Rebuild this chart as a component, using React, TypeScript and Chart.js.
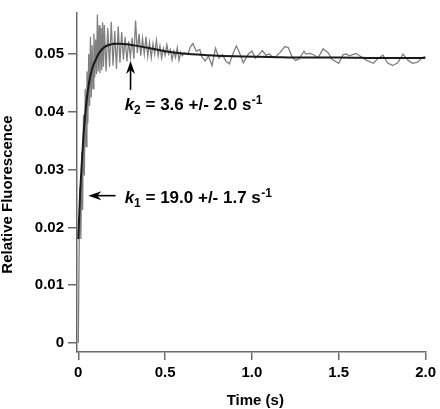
import React, { useEffect, useRef } from "react";
import { Chart, registerables } from "chart.js";

Chart.register(...registerables);

// Noisy fluorescence trace: [time (s), relative fluorescence]
const tracePoints: [number, number][] = [
  [0.000, 0.0000], [0.005, 0.0165], [0.010, 0.0270], [0.015, 0.0180], [0.020, 0.0330],
  [0.025, 0.0230], [0.030, 0.0395], [0.035, 0.0290], [0.040, 0.0440], [0.045, 0.0340],
  [0.050, 0.0470], [0.055, 0.0380], [0.060, 0.0500], [0.065, 0.0410], [0.070, 0.0530],
  [0.075, 0.0425], [0.080, 0.0515], [0.085, 0.0440], [0.090, 0.0535], [0.095, 0.0460],
  [0.100, 0.0525], [0.105, 0.0465], [0.110, 0.0568], [0.115, 0.0470], [0.120, 0.0550],
  [0.125, 0.0467], [0.130, 0.0545], [0.135, 0.0472], [0.140, 0.0555], [0.145, 0.0478],
  [0.15, 0.0550], [0.16, 0.0470], [0.17, 0.0545], [0.18, 0.0478], [0.19, 0.0556],
  [0.20, 0.0480], [0.21, 0.0540], [0.22, 0.0474], [0.23, 0.0548], [0.24, 0.0485],
  [0.25, 0.0538], [0.26, 0.0490], [0.27, 0.0530], [0.28, 0.0487], [0.29, 0.0522],
  [0.30, 0.0495], [0.31, 0.0528], [0.32, 0.0492], [0.33, 0.0558], [0.34, 0.0502],
  [0.35, 0.0535], [0.36, 0.0497], [0.37, 0.0527], [0.38, 0.0500], [0.39, 0.0530],
  [0.40, 0.0496], [0.41, 0.0520], [0.42, 0.0494], [0.43, 0.0518], [0.44, 0.0500],
  [0.45, 0.0524], [0.46, 0.0497], [0.47, 0.0514], [0.48, 0.0493], [0.49, 0.0510],
  [0.50, 0.0498], [0.51, 0.0516], [0.52, 0.0500], [0.53, 0.0508], [0.54, 0.0490],
  [0.55, 0.0505], [0.56, 0.0494], [0.57, 0.0511], [0.58, 0.0489], [0.59, 0.0503],
  [0.60, 0.0497], [0.61, 0.0502], [0.63, 0.0499], [0.645, 0.0512], [0.66, 0.0518],
  [0.68, 0.0505], [0.70, 0.0508], [0.71, 0.0496], [0.73, 0.0488], [0.75, 0.0496],
  [0.77, 0.0480], [0.79, 0.0510], [0.81, 0.0493], [0.83, 0.0499], [0.85, 0.0488],
  [0.87, 0.0483], [0.89, 0.0500], [0.91, 0.0514], [0.925, 0.0505], [0.95, 0.0485],
  [0.98, 0.0500], [1.00, 0.0505], [1.02, 0.0493], [1.04, 0.0499], [1.06, 0.0506],
  [1.08, 0.0498], [1.10, 0.0500], [1.115, 0.0496], [1.135, 0.0495], [1.16, 0.0502],
  [1.19, 0.0513], [1.21, 0.0511], [1.23, 0.0496], [1.25, 0.0489], [1.27, 0.0491],
  [1.30, 0.0505], [1.31, 0.0500], [1.335, 0.0501], [1.36, 0.0498], [1.38, 0.0493],
  [1.41, 0.0509], [1.44, 0.0502], [1.46, 0.0491], [1.50, 0.0484], [1.525, 0.0499],
  [1.545, 0.0500], [1.56, 0.0497], [1.58, 0.0499], [1.60, 0.0501], [1.62, 0.0497],
  [1.66, 0.0489], [1.70, 0.0484], [1.725, 0.0492], [1.755, 0.0498], [1.78, 0.0485],
  [1.81, 0.0480], [1.84, 0.0485], [1.87, 0.0500], [1.90, 0.0489], [1.925, 0.0484],
  [1.955, 0.0486], [1.98, 0.0494], [2.00, 0.0496],
];

// Fitted double-exponential curve
const fitTime = [0, 0.01, 0.02, 0.03, 0.04, 0.05, 0.06, 0.08, 0.10, 0.12, 0.15, 0.18, 0.21, 0.24, 0.28, 0.32, 0.40, 0.50, 0.60, 0.75, 0.90, 1.10, 1.30, 1.50, 1.75, 2.00];
const fitValue = [0.0180, 0.0255, 0.0310, 0.0360, 0.0395, 0.0425, 0.0447, 0.0475, 0.0490, 0.0502, 0.0512, 0.0516, 0.0518, 0.0518, 0.0517, 0.0515, 0.0511, 0.0505, 0.0501, 0.0498, 0.0496, 0.0495, 0.0494, 0.0494, 0.0493, 0.0493];

const yTickValues = [0, 0.01, 0.02, 0.03, 0.04, 0.05];
const xTickValues = [0, 0.5, 1.0, 1.5, 2.0];

const xTitle = "Time (s)";
const yTitle = "Relative Fluorescence";

// Annotations (anchored in data coordinates)
const k2Label = { parts: ["k", "2", " = 3.6 +/- 2.0 s", "-1"], x: 0.267, y: 0.0403 };
const k2Arrow = { fromX: 0.301, fromY: 0.0438, toX: 0.301, toY: 0.0488 };
const k1Label = { parts: ["k", "1", " = 19.0 +/- 1.7 s", "-1"], x: 0.267, y: 0.0243 };
const k1Arrow = { fromX: 0.215, fromY: 0.0255, toX: 0.058, toY: 0.0255 };

const FONT = "'Liberation Sans', Arial, Helvetica, sans-serif";

function drawRich(ctx: CanvasRenderingContext2D, parts: string[], x: number, y: number) {
  const big = 17;
  const small = 12;
  let cx = x;
  ctx.textBaseline = "alphabetic";
  ctx.textAlign = "left";
  ctx.fillStyle = "#000";
  ctx.font = `italic bold ${big}px ${FONT}`;
  ctx.fillText(parts[0], cx, y);
  cx += ctx.measureText(parts[0]).width;
  ctx.font = `bold ${small}px ${FONT}`;
  ctx.fillText(parts[1], cx, y + 4);
  cx += ctx.measureText(parts[1]).width;
  ctx.font = `bold ${big}px ${FONT}`;
  ctx.fillText(parts[2], cx, y);
  cx += ctx.measureText(parts[2]).width;
  ctx.font = `bold ${small}px ${FONT}`;
  ctx.fillText(parts[3], cx + 0.5, y - 6);
}

function drawArrow(ctx: CanvasRenderingContext2D, x1: number, y1: number, x2: number, y2: number) {
  const ang = Math.atan2(y2 - y1, x2 - x1);
  const headLen = 13;
  const halfW = 4.5;
  const notch = 4;
  const cos = Math.cos(ang);
  const sin = Math.sin(ang);
  ctx.save();
  ctx.strokeStyle = "#000";
  ctx.fillStyle = "#000";
  ctx.lineWidth = 1.6;
  ctx.beginPath();
  ctx.moveTo(x1, y1);
  ctx.lineTo(x2 - cos * (headLen - notch), y2 - sin * (headLen - notch));
  ctx.stroke();
  const bx = x2 - cos * headLen;
  const by = y2 - sin * headLen;
  const nx = x2 - cos * (headLen - notch);
  const ny = y2 - sin * (headLen - notch);
  ctx.beginPath();
  ctx.moveTo(x2, y2);
  ctx.lineTo(bx - sin * halfW, by + cos * halfW);
  ctx.lineTo(nx, ny);
  ctx.lineTo(bx + sin * halfW, by - cos * halfW);
  ctx.closePath();
  ctx.fill();
  ctx.restore();
}

const overlayPlugin = {
  id: "overlay",
  afterDraw(chart: any) {
    const ctx: CanvasRenderingContext2D = chart.ctx;
    const xs = chart.scales.x;
    const ys = chart.scales.y;
    ctx.save();
    ctx.fillStyle = "#000";
    ctx.font = `bold 15px ${FONT}`;
    ctx.textAlign = "center";
    ctx.textBaseline = "middle";
    ctx.fillText(xTitle, (chart.chartArea.left + chart.chartArea.right) / 2 + 4, chart.chartArea.bottom + 49);
    ctx.save();
    ctx.translate(8, (chart.chartArea.top + chart.chartArea.bottom) / 2 + 12);
    ctx.rotate(-Math.PI / 2);
    ctx.fillText(yTitle, 0, 0);
    ctx.restore();
    drawArrow(ctx, xs.getPixelForValue(k2Arrow.fromX), ys.getPixelForValue(k2Arrow.fromY), xs.getPixelForValue(k2Arrow.toX), ys.getPixelForValue(k2Arrow.toY));
    drawArrow(ctx, xs.getPixelForValue(k1Arrow.fromX), ys.getPixelForValue(k1Arrow.fromY), xs.getPixelForValue(k1Arrow.toX), ys.getPixelForValue(k1Arrow.toY));
    drawRich(ctx, k2Label.parts, xs.getPixelForValue(k2Label.x), ys.getPixelForValue(k2Label.y));
    drawRich(ctx, k1Label.parts, xs.getPixelForValue(k1Label.x), ys.getPixelForValue(k1Label.y));
    ctx.restore();
  },
};

export default function App() {
  const ref = useRef<HTMLCanvasElement | null>(null);
  useEffect(() => {
    if (!ref.current) return;
    const axisColor = "#6a6a6a";
    const chart = new Chart(ref.current, {
      type: "line",
      data: {
        datasets: [
          {
            label: "fit",
            data: fitTime.map((t, i) => ({ x: t, y: fitValue[i] })),
            borderColor: "#1a1a1a",
            borderWidth: 2,
            pointRadius: 0,
            cubicInterpolationMode: "monotone",
            fill: false,
            order: 0,
          },
          {
            label: "trace",
            data: tracePoints.map(([t, v]) => ({ x: t, y: v })),
            borderColor: "#7f7f7f",
            borderWidth: 1.3,
            pointRadius: 0,
            tension: 0,
            fill: false,
            order: 1,
          },
        ],
      },
      options: {
        animation: false,
        responsive: false,
        devicePixelRatio: 1,
        layout: { padding: { left: 0, right: 13, top: 0, bottom: 0 } },
        plugins: { legend: { display: false }, tooltip: { enabled: false } },
        scales: {
          x: {
            type: "linear",
            min: -0.0074,
            max: 2.0,
            afterBuildTicks: (s: any) => {
              s.ticks = xTickValues.map((v) => ({ value: v }));
            },
            afterFit: (s: any) => {
              s.height = 57;
            },
            border: { display: true, color: axisColor, width: 1.5 },
            grid: { drawOnChartArea: false, drawTicks: true, tickLength: 8, color: axisColor, lineWidth: 1.5 },
            ticks: {
              padding: 4,
              color: "#000",
              font: { family: FONT, size: 15, weight: "bold" },
              maxRotation: 0,
              callback: (v: any) => (Number(v) === 0 ? "0" : Number(v).toFixed(1)),
            },
          },
          y: {
            type: "linear",
            min: -0.00155,
            max: 0.0571,
            afterBuildTicks: (s: any) => {
              s.ticks = yTickValues.map((v) => ({ value: v }));
            },
            afterFit: (s: any) => {
              s.width = 77;
            },
            border: { display: true, color: axisColor, width: 1.5 },
            grid: { drawOnChartArea: false, drawTicks: true, tickLength: 9, color: axisColor, lineWidth: 1.5 },
            ticks: {
              padding: 4,
              color: "#000",
              font: { family: FONT, size: 15, weight: "bold" },
              callback: (v: any) => (Number(v) === 0 ? "0" : Number(v).toFixed(2)),
            },
          },
        },
      },
      plugins: [overlayPlugin],
    } as any);
    return () => chart.destroy();
  }, []);
  return (
    <div style={{ position: "fixed", left: 0, top: 0, width: 440, height: 409, background: "#fff" }}>
      <canvas ref={ref} width={440} height={409} style={{ width: 440, height: 409, display: "block" }} />
    </div>
  );
}
